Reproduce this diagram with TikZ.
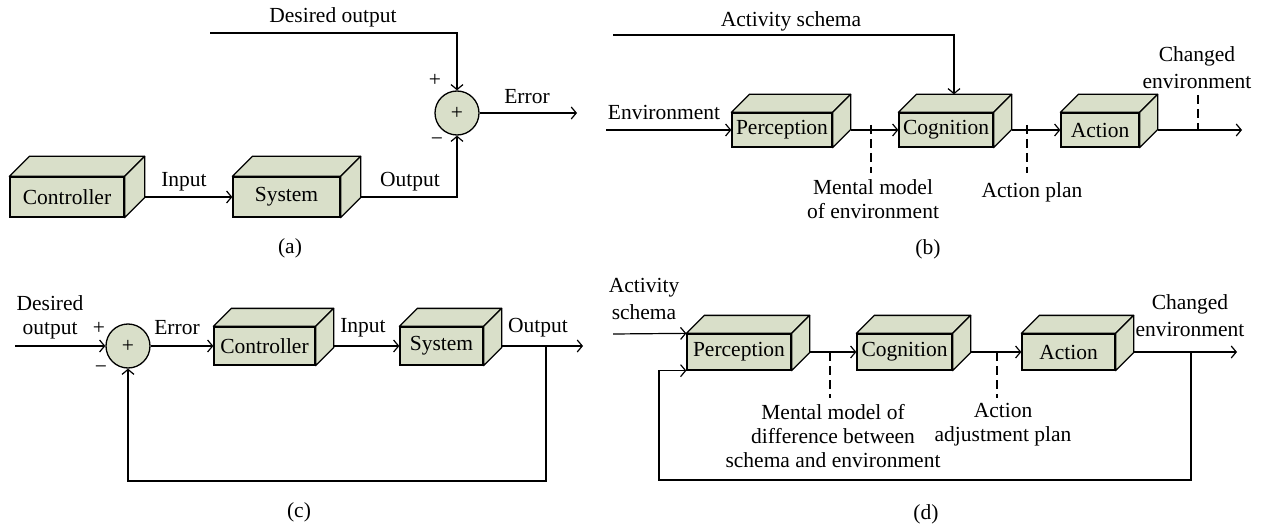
\documentclass[tikz,border=0pt]{standalone}
\usepackage{fontspec}
\setmainfont{Liberation Serif}
\usetikzlibrary{arrows.meta,calc}
\definecolor{boxfill}{RGB}{217,223,201}
\begin{document}
\begin{tikzpicture}[x=1pt,y=-1pt,
  font=\rmfamily\fontsize{21.5}{24}\selectfont,
  line width=1.2pt,
  conn/.style={-{Straight Barb[length=5pt,width=12pt,line width=1.2pt]}},
  cube/.style={draw, fill=boxfill, line width=1.3pt, inner sep=0pt, font=\rmfamily\fontsize{21.5}{24}\selectfont},
  sumnode/.style={circle, draw, fill=boxfill, line width=1.3pt, minimum size=44pt, inner sep=0pt},
  lbl/.style={inner sep=0pt, align=center},
  dashline/.style={dash pattern=on 9pt off 5pt}
]
\useasboundingbox (0,0) rectangle (1261,524);

% ---------- (a) ----------
\node[cube, minimum width=114pt, minimum height=40pt] (actrl) at (67,197) {Controller};
\node[cube, minimum width=107pt, minimum height=40pt] (asys) at (286.5,197) {System};
\node[sumnode] (asum) at (457,113) {+};
\coordinate (adesired) at (210,33);
\coordinate (aerr) at (577,113);
\draw[conn] ([xshift=20pt]actrl.east) -- (asys.west);
\draw[conn] ([xshift=20pt]asys.east) -| (asum.south);
\draw[conn] (adesired) -| (asum.north);
\draw[conn] (asum.east) -- (aerr);
\node[lbl] (la1) at (333,17) {Desired output};
\node[lbl] (la2) at (184,182) {Input};
\node[lbl] (la3) at (410,182) {Output};
\node[lbl] (la4) at (527,97) {Error};
\node[lbl] (la5) at (435,80) {+};
\node[lbl] (la6) at (437,142) {−};
\node[lbl] (la7) at (290,248) {(a)};

% ---------- (b) ----------
\node[cube, minimum width=100pt, minimum height=34pt] (bper) at (782,130) {Perception};
\node[cube, minimum width=94pt, minimum height=34pt] (bcog) at (946,130) {Cognition};
\node[cube, minimum width=78pt, minimum height=34pt] (bact) at (1100,130) {Action};
\coordinate (benv) at (606,130);
\coordinate (bsch) at (613,35);
\coordinate (bout) at (1242,130);
\draw[conn] (benv) -- (bper.west);
\draw[conn] ([xshift=18pt]bper.east) -- (bcog.west);
\draw[conn] ([xshift=18pt]bcog.east) -- (bact.west);
\draw[conn] ([xshift=18pt]bact.east) -- (bout);
\draw[conn] (bsch) -| ($(bcog.north)+(8,-18)$);
\coordinate (bd1a) at (871,125); \coordinate (bd1b) at (871,173);
\coordinate (bd2a) at (1027,125); \coordinate (bd2b) at (1027,173);
\coordinate (bd3a) at (1198,95); \coordinate (bd3b) at (1198,130);
\draw[dashline] (bd1a) -- (bd1b);
\draw[dashline] (bd2a) -- (bd2b);
\draw[dashline] (bd3a) -- (bd3b);
\node[lbl] (lb1) at (791,21) {Activity schema};
\node[lbl] (lb2) at (664,112) {Environment};
\node[lbl] (lb3) at (873,199) {Mental model\\of environment};
\node[lbl] (lb4) at (1032,192) {Action plan};
\node[lbl] (lb5) at (1197,68) {Changed\\[3pt]environment};
\node[lbl] (lb6) at (928,249) {(b)};

% ---------- (c) ----------
\node[sumnode] (csum) at (128,346) {+};
\node[cube, minimum width=101pt, minimum height=38pt] (cctrl) at (264.5,346) {Controller};
\node[cube, minimum width=83pt, minimum height=38pt] (csys) at (441.5,346) {System};
\coordinate (cin) at (15,346);
\coordinate (cout) at (583,346);
\coordinate (cfb) at (546,346);
\coordinate (cfbb) at (546,481);
\draw[conn] (cin) -- (csum.west);
\draw[conn] (csum.east) -- (cctrl.west);
\draw[conn] ([xshift=18pt]cctrl.east) -- (csys.west);
\draw[conn] ([xshift=18pt]csys.east) -- (cout);
\draw[conn] (cfb) -- (cfbb) -| (csum.south);
\node[lbl] (lc1) at (50,317) {Desired\\output};
\node[lbl] (lc2) at (99,328) {+};
\node[lbl] (lc3) at (101,370) {−};
\node[lbl] (lc4) at (177,328) {Error};
\node[lbl] (lc5) at (363,328) {Input};
\node[lbl] (lc6) at (538,328) {Output};
\node[lbl] (lc7) at (299,512) {(c)};

% ---------- (d) ----------
\node[cube, minimum width=104pt, minimum height=36pt] (dper) at (739,352) {Perception};
\node[cube, minimum width=95pt, minimum height=36pt] (dcog) at (904.5,352) {Cognition};
\node[cube, minimum width=93pt, minimum height=36pt] (dact) at (1068.5,352) {Action};
\coordinate (dsch) at (613,334);
\coordinate (dout) at (1237,352);
\coordinate (dfb) at (1191,352);
\coordinate (dfbb) at (1191,480);
\coordinate (dfbc) at (659,480);
\draw[conn] (dsch) -- (dper.north west);
\draw[conn] ([xshift=18pt]dper.east) -- (dcog.west);
\draw[conn] ([xshift=18pt]dcog.east) -- (dact.west);
\draw[conn] ([xshift=18pt]dact.east) -- (dout);
\draw[conn] (dfb) -- (dfbb) -- (dfbc) |- (dper.south west);
\coordinate (dd1a) at (830,352); \coordinate (dd1b) at (830,398);
\coordinate (dd2a) at (997,352); \coordinate (dd2b) at (997,398);
\draw[dashline] (dd1a) -- (dd1b);
\draw[dashline] (dd2a) -- (dd2b);
\node[lbl] (ld1) at (644,299) {Activity\\[3pt]schema};
\node[lbl] (ld2) at (1190,316) {Changed\\[3pt]environment};
\node[lbl] (ld3) at (833,436) {Mental model of\\difference between\\schema and environment};
\node[lbl] (ld4) at (1003,425) {Action\\adjustment plan};
\node[lbl] (ld5) at (926,514) {(d)};

% ---------- cube depth faces ----------
\foreach \n/\d in {actrl/20, asys/20, bper/18, bcog/18, bact/18, cctrl/18, csys/18, dper/18, dcog/18, dact/18} {
  \draw[fill=boxfill, line width=1.3pt, line join=round]
    (\n.north west) -- ++(\d,-\d) -- ($(\n.north east)+(\d,-\d)$) -- (\n.north east) -- cycle;
  \draw[fill=boxfill, line width=1.3pt, line join=round]
    (\n.north east) -- ++(\d,-\d) -- ($(\n.south east)+(\d,-\d)$) -- (\n.south east) -- cycle;
}
\end{tikzpicture}
\end{document}
